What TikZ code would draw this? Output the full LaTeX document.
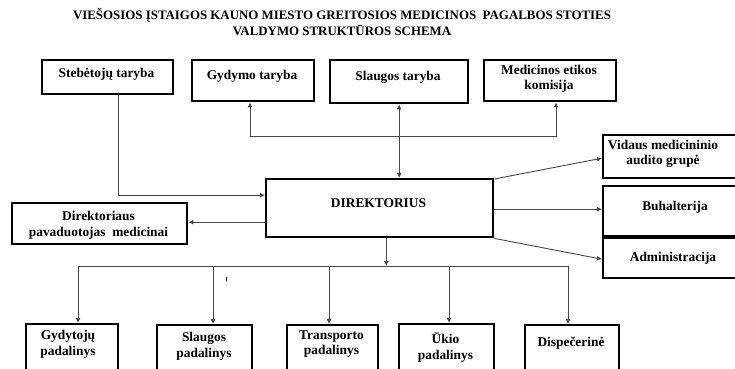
\documentclass[tikz,border=0pt]{standalone}
\usepackage{fontspec}
\setmainfont{Liberation Serif}
\usetikzlibrary{arrows.meta}
\begin{document}
\begin{tikzpicture}[x=1pt,y=-1pt,
  box/.style={draw=black, line width=2.4pt, inner sep=0pt, anchor=north west},
  txt/.style={font=\fontsize{13.4}{15.5}\selectfont\bfseries, align=center, inner sep=0pt},
  conn/.style={draw=black!72, line width=0.9pt},
  tip/.style={-{Latex[length=5pt,width=5pt]}},
  tips/.style={{Latex[length=5pt,width=5pt]}-{Latex[length=5pt,width=5pt]}}]
\useasboundingbox (0,0) rectangle (735,368);
\clip (0,0) rectangle (735,368);
% title
\node[font=\fontsize{12.9}{15.5}\selectfont\bfseries, align=center, inner sep=0pt] (title) at (342,22)
  {VIEŠOSIOS ĮSTAIGOS KAUNO MIESTO GREITOSIOS MEDICINOS\ \ PAGALBOS STOTIES\\VALDYMO STRUKTŪROS SCHEMA};
% top row
\node[box, minimum width=131pt, minimum height=34pt] (steb) at (41,59) {};
\node[txt] (steb-t) at (106.5,74) {Stebėtojų taryba};
\node[box, minimum width=122pt, minimum height=41pt] (gyd) at (191,59) {};
\node[txt] (gyd-t) at (252,76) {Gydymo taryba};
\node[box, minimum width=138pt, minimum height=43pt] (slt) at (329,59) {};
\node[txt] (slt-t) at (398,77) {Slaugos taryba};
\node[box, minimum width=132pt, minimum height=41pt] (med) at (483,59) {};
\node[txt] (med-t) at (549,79) {Medicinos etikos\\komisija};
% middle
\node[box, minimum width=227pt, minimum height=58pt] (dir) at (265,178) {};
\node[txt] (dir-t) at (378.5,203) {DIREKTORIUS};
\node[box, minimum width=175pt, minimum height=41pt] (pav) at (11,202) {};
\node[txt] (pav-t) at (98.5,225.5) {Direktoriaus\\pavaduotojas\ \ medicinai};
\node[box, minimum width=140pt, minimum height=43pt] (vid) at (602,134) {};
\node[txt] (vid-t) at (663,154) {Vidaus medicininio\\audito grupė};
\node[box, minimum width=140pt, minimum height=50pt] (buh) at (602,185) {};
\node[txt] (buh-t) at (675,207) {Buhalterija};
\node[box, minimum width=140pt, minimum height=40pt] (adm) at (602,237) {};
\node[txt] (adm-t) at (673,258) {Administracija};
% bottom row
\node[box, minimum width=92pt, minimum height=60pt] (gyt) at (25,323) {};
\node[txt] (gyt-t) at (68,344.5) {Gydytojų\\padalinys};
\node[box, minimum width=95pt, minimum height=60pt] (slp) at (156,324) {};
\node[txt] (slp-t) at (204,346.5) {Slaugos\\padalinys};
\node[box, minimum width=91pt, minimum height=60pt] (tra) at (286,324) {};
\node[txt] (tra-t) at (331.5,344) {Transporto\\padalinys};
\node[box, minimum width=95pt, minimum height=60pt] (uki) at (398,323) {};
\node[txt] (uki-t) at (445.5,347.5) {Ūkio\\padalinys};
\node[box, minimum width=94pt, minimum height=60pt] (dis) at (524,324) {};
\node[txt] (dis-t) at (571,343) {Dispečerinė};
% connectors
\draw[conn,tip] ([xshift=10.5pt]steb.south) |- ([yshift=13pt]dir.west);
\draw[conn,tip] ([yshift=-14pt]dir.west) -- ([yshift=-14pt]dir.west -| pav.east);
\draw[conn,tips] (slt.south) -- (slt.south |- dir.north);
\coordinate (jl) at (250,136);
\coordinate (jr) at (556,136);
\draw[conn,tips] (gyd.south -| jl) -- (jl) -- (jr) -- (med.south -| jr);
\draw[conn,tip] ([yshift=-1pt]dir.north east) -- ([yshift=-1.5pt]vid.west);
\draw[conn,tip] ([yshift=-1pt]dir.east) -- ([yshift=-1pt]dir.east -| buh.west);
\draw[conn,tip] (dir.south east) -- ([yshift=-1pt]adm.west);
\coordinate (b1) at (78,266);
\coordinate (b2) at (213,266);
\coordinate (b3) at (329,266);
\coordinate (b4) at (449,266);
\coordinate (b5) at (568,266);
\draw[conn,tip] ([xshift=6.5pt]dir.south) -- ([xshift=6.5pt]dir.south |- b1);
\draw[conn] (b1) -- (b5);
\draw[conn,tip] (b1) -- (b1 |- gyt.north);
\draw[conn,tip] (b2) -- (b2 |- slp.north);
\draw[conn,tip] (b3) -- (b3 |- tra.north);
\draw[conn,tip] (b4) -- (b4 |- uki.north);
\draw[conn,tip] (b5) -- (b5 |- dis.north);
\coordinate (tk) at (226,277);
\draw[line width=0.6pt] (tk) -- ++(0,4);
\end{tikzpicture}
\end{document}
